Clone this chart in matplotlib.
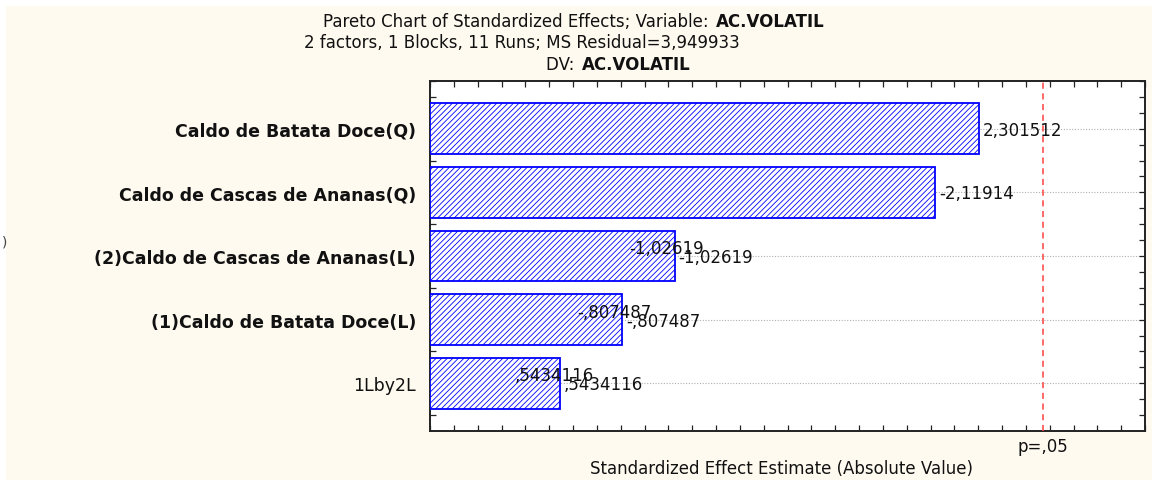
import matplotlib
matplotlib.use('Agg')
import matplotlib.pyplot as plt
from matplotlib.patches import Rectangle
import matplotlib.transforms as mtransforms

factors = ['Caldo de Batata Doce(Q)', 'Caldo de Cascas de Ananas(Q)',
           '(2)Caldo de Cascas de Ananas(L)', '(1)Caldo de Batata Doce(L)', '1Lby2L']
effects = [2.301512, -2.11914, -1.02619, -0.807487, 0.5434116]
effect_text = ['2,301512', '-2,11914', '-1,02619', '-,807487', ',5434116']
label_bold = [True, True, True, True, False]
doubled = [False, False, True, True, True]
p_crit = 2.570582

cream = '#FFFAF0'
blue = '#0000FF'
ink = '#111111'

plt.rcParams['font.family'] = ['DejaVu Sans']
plt.rcParams['hatch.linewidth'] = 0.6
plt.rcParams['hatch.color'] = blue

fig = plt.figure(figsize=(11.56, 4.81), dpi=100, facecolor=cream)
W, H = 1156, 481
# white strips around the window frame
fig.patches.append(Rectangle((0, 1 - 7 / H), 1, 7 / H, transform=fig.transFigure,
                             facecolor='white', edgecolor='none', zorder=0))
fig.patches.append(Rectangle((0, 0), 6 / W, 1, transform=fig.transFigure,
                             facecolor='white', edgecolor='none', zorder=0))
fig.patches.append(Rectangle((1 - 4 / W, 0), 4 / W, 1, transform=fig.transFigure,
                             facecolor='white', edgecolor='none', zorder=0))

ax = fig.add_axes([430 / W, (H - 432) / H, (1145 - 430) / W, (432 - 82) / H])
ax.set_facecolor('white')

ypos = list(range(1, len(factors) + 1))
mags = [abs(v) for v in effects]
ax.barh(ypos, mags, height=0.8, left=0, facecolor='white', edgecolor=blue,
        linewidth=1.3, hatch='//////', zorder=3)

ax.set_xlim(0, 3.0)
ax.set_ylim(5.75, 0.25)

for y in ypos:
    ax.axhline(y, color='#B0B0B0', lw=0.8, ls=(0, (1, 1.5)), zorder=1)

ax.axvline(p_crit, color='#FF4040', lw=1.1, ls=(0, (4, 3)), zorder=4)

# value labels (Statistica draws some of them twice)
for y, m, s, d in zip(ypos, mags, effect_text, doubled):
    ax.annotate(s, (m, y), xytext=(4, -1), textcoords='offset pixels',
                ha='left', va='center', fontsize=12, color=ink, zorder=5)
    if d:
        ax.annotate(s, (m, y), xytext=(-45, 8), textcoords='offset pixels',
                    ha='left', va='center', fontsize=12, color=ink, zorder=5)

ax.set_yticks(ypos)
ax.set_yticklabels(factors)
for t, b in zip(ax.get_yticklabels(), label_bold):
    t.set_fontweight('bold' if b else 'normal')
    t.set_fontsize(12.5)
    t.set_color(ink)

ax.set_xticks([i / 10 for i in range(0, 31)])
ax.set_xticklabels([])
ax.set_yticks([0.25 + i * 0.25 for i in range(22)], minor=True)
ax.tick_params(axis='both', which='both', direction='in', top=True, right=True,
               length=4, width=0.9, color='#222222')
ax.tick_params(axis='y', which='major', pad=10)
for sp in ax.spines.values():
    sp.set_linewidth(1.4)
    sp.set_color('#222222')

trans = mtransforms.blended_transform_factory(ax.transData, fig.transFigure)
ax.text(p_crit, 1 - 447 / H, 'p=,05', transform=trans, ha='center', va='center',
        fontsize=12, color=ink)
fig.text(782 / W, 1 - 469 / H, 'Standardized Effect Estimate (Absolute Value)',
         ha='center', va='center', fontsize=12, color=ink)

# title block
fig.text(714 / W, 1 - 22 / H, 'Pareto Chart of Standardized Effects; Variable: ',
         ha='right', va='center', fontsize=12, color=ink)
fig.text(716 / W, 1 - 22 / H, 'AC.VOLATIL', ha='left', va='center', fontsize=12,
         fontweight='bold', color=ink)
fig.text(522 / W, 1 - 43 / H, '2 factors, 1 Blocks, 11 Runs; MS Residual=3,949933',
         ha='center', va='center', fontsize=12, color=ink)
fig.text(580 / W, 1 - 65 / H, 'DV: ', ha='right', va='center', fontsize=12, color=ink)
fig.text(582 / W, 1 - 65 / H, 'AC.VOLATIL', ha='left', va='center', fontsize=12,
         fontweight='bold', color=ink)
fig.text(5 / W, 1 - 243 / H, ')', ha='center', va='center', fontsize=10, color='#444444')

fig.savefig('out.png', dpi=100, facecolor=cream)
